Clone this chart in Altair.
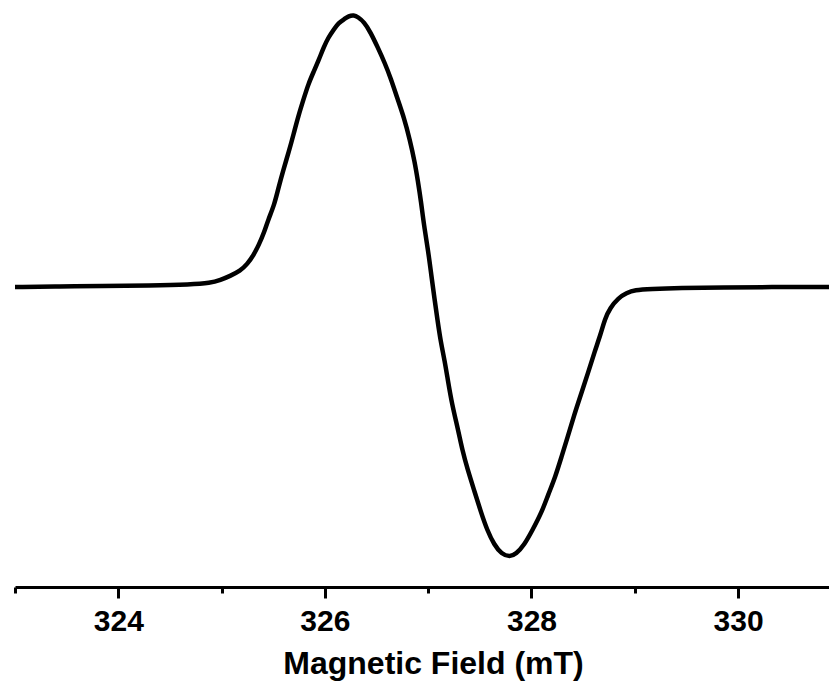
import altair as alt
import pandas as pd

# Magnetic field (mT)
field = [323.00, 323.44, 323.83, 324.31, 324.70, 324.89, 324.99, 325.08, 325.18, 325.25,
         325.31, 325.36, 325.41, 325.45, 325.51, 325.55, 325.60, 325.65, 325.70, 325.74,
         325.80, 325.84, 325.89, 325.94, 325.99, 326.03, 326.09, 326.13, 326.19, 326.23,
         326.28, 326.32, 326.38, 326.44, 326.51, 326.58, 326.64, 326.70, 326.77, 326.82,
         326.87, 326.90, 326.93, 326.96, 327.00, 327.03, 327.06, 327.09, 327.12, 327.16,
         327.19, 327.23, 327.29, 327.33, 327.38, 327.45, 327.51, 327.57, 327.64, 327.71,
         327.79, 327.85, 327.93, 328.01, 328.10, 328.16, 328.23, 328.29, 328.35, 328.41,
         328.48, 328.55, 328.61, 328.67, 328.71, 328.76, 328.84, 328.92, 329.00, 329.15,
         329.44, 329.83, 330.41, 330.96]

# EPR first-derivative signal (arbitrary units)
signal = [-1, -0.5, 0, 0.5, 1.5, 3, 6, 10, 15, 22,
          31, 41, 53, 66, 81, 98, 117, 134, 153, 169,
          189, 202, 214, 226, 239, 248, 257, 263, 267, 270,
          271, 269, 264, 254, 239, 223, 207, 188, 167, 147,
          124, 105, 85, 60, 35, 11, -12, -34, -55, -75,
          -94, -118, -144, -164, -183, -206, -226, -244, -259, -268,
          -271, -268, -259, -244, -226, -209, -191, -171, -151, -130,
          -108, -86, -66, -48, -33, -22, -12, -7, -4, -3,
          -2, -1.5, -1, -1]

tick_values = [323, 324, 325, 326, 327, 328, 329, 330]

df = pd.DataFrame({"field": field, "signal": signal})

chart = (
    alt.Chart(df)
    .mark_line(color="black", strokeWidth=4.5, interpolate="basis", clip=True)
    .encode(
        x=alt.X(
            "field:Q",
            scale=alt.Scale(domain=[323, 330.88], nice=False, zero=False),
            axis=alt.Axis(
                title="Magnetic Field (mT)",
                values=tick_values,
                labelExpr="datum.value % 2 == 0 ? datum.label : ''",
                grid=False,
                domainColor="black",
                domainWidth=3,
                tickColor="black",
                tickWidth=3,
                tickSize={"condition": {"test": "datum.value % 2 == 0", "value": 11}, "value": 6},
                labelFont="Liberation Sans",
                labelFontWeight="bold",
                labelFontSize=30,
                labelColor="black",
                labelPadding=8,
                labelFlush=False,
                titleFont="Liberation Sans",
                titleFontWeight="bold",
                titleFontSize=32,
                titleColor="black",
                titlePadding=12,
                titleX=418,
            ),
        ),
        y=alt.Y(
            "signal:Q",
            scale=alt.Scale(domain=[-301, 278], nice=False, zero=False),
            axis=None,
        ),
    )
    .properties(
        width=814,
        height=579,
        padding={"left": 7, "top": 0, "right": 0, "bottom": 95},
        autosize=alt.AutoSizeParams(type="none"),
        background="white",
    )
    .configure_view(stroke=None)
)

chart.save("out.html", embed_options={"renderer": "svg", "actions": False})
